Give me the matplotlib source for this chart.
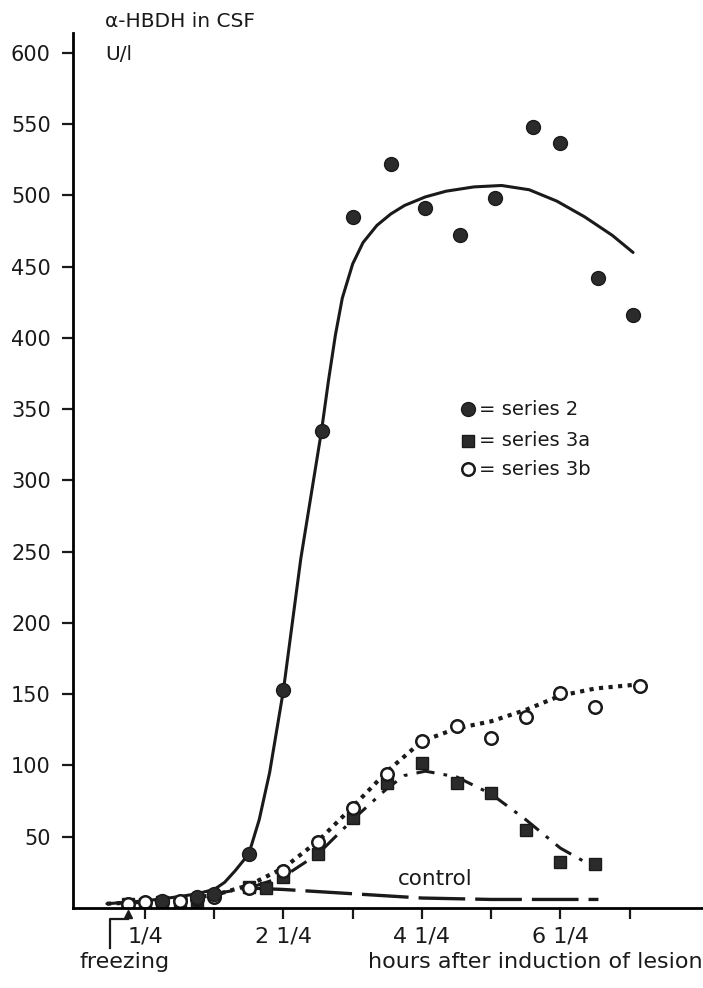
import matplotlib
matplotlib.use("Agg")
import matplotlib.pyplot as plt

# data (hours after lesion, U/l)
s2_h = [0.5, 1.0, 1.25, 1.75, 2.25, 2.8, 3.25, 3.8, 4.3, 4.8, 5.3, 5.85, 6.25, 6.8, 7.3]
s2_v = [5, 8, 10, 38, 153, 335, 485, 522, 491, 472, 498, 548, 537, 442, 416]

s3a_h = [0.0, 0.25, 0.5, 0.75, 1.0, 1.75, 2.0, 2.25, 2.75, 3.25, 3.75, 4.25, 4.75, 5.25, 5.75, 6.25, 6.75]
s3a_v = [3, 3, 4, 4, 5, 15, 14, 22, 38, 63, 88, 102, 88, 81, 55, 32, 31]

s3b_h = [0.0, 0.25, 0.5, 0.75, 1.0, 1.25, 1.75, 2.25, 2.75, 3.25, 3.75, 4.25, 4.75, 5.25, 5.75, 6.25, 6.75, 7.4]
s3b_v = [3, 4, 4, 5, 6, 8, 14, 26, 46, 70, 94, 117, 128, 119, 134, 151, 141, 156]

# hand drawn fit curves
curve2_h = [-0.3, 0.25, 0.75, 1.0, 1.25, 1.4, 1.55, 1.75, 1.9, 2.05, 2.25, 2.5, 2.8, 2.9, 3.0, 3.1, 3.25, 3.4,
            3.6, 3.8, 4.0, 4.3, 4.6, 5.0, 5.4, 5.8, 6.2, 6.6, 7.0, 7.3]
curve2_v = [3, 5, 8, 10, 13, 18, 26, 38, 62, 95, 153, 245, 335, 370, 402, 428, 452, 467,
            479, 487, 493, 499, 503, 506, 507, 504, 496, 485, 472, 460]

curve3a_h = [1.25, 1.75, 2.25, 2.75, 3.25, 3.75, 4.0, 4.3, 4.75, 5.25, 5.75, 6.25, 6.8]
curve3a_v = [10, 14, 22, 38, 62, 84, 93, 96, 92, 80, 62, 42, 27]

curve3b_h = [-0.3, 0.5, 1.25, 1.75, 2.25, 2.75, 3.25, 3.75, 4.25, 4.75, 5.25, 5.75, 6.25, 6.75, 7.4]
curve3b_v = [3, 5, 9, 16, 28, 47, 71, 96, 117, 126, 131, 139, 149, 154, 157]

control_h = [1.75, 2.25, 3.25, 4.25, 5.25, 6.25, 6.8]
control_v = [14, 13, 10, 7, 6, 6, 6]

y_ticks = [50, 100, 150, 200, 250, 300, 350, 400, 450, 500, 550, 600]
x_ticks = [0.25, 1.25, 2.25, 3.25, 4.25, 5.25, 6.25, 7.25]
x_labels = ["1/4", "", "2 1/4", "", "4 1/4", "", "6 1/4", ""]

plt.rcParams['font.family'] = ['DejaVu Sans']
ink = '#1a1a1a'

fig = plt.figure(figsize=(7.03, 9.88), dpi=100)
ax = fig.add_axes([73 / 703, 80 / 988, 630 / 703, 875 / 988])

# curves
ax.plot(curve2_h, curve2_v, color=ink, lw=2.2, solid_capstyle='round', solid_joinstyle='round')
ax.plot(curve3a_h, curve3a_v, color=ink, lw=2.2, linestyle=(0, (6, 3, 1.2, 3)))
ax.plot(curve3b_h, curve3b_v, color=ink, lw=3.0, linestyle=(0, (1, 1.3)))
ax.plot(control_h, control_v, color=ink, lw=2.4, linestyle=(0, (14, 3)))

# points
ax.plot(s3a_h, s3a_v, 's', color='#2b2b2b', markersize=8, markeredgecolor=ink, linestyle='none')
ax.plot(s3b_h, s3b_v, 'o', color='white', markersize=9, markeredgecolor=ink, markeredgewidth=1.8, linestyle='none')
ax.plot(s2_h, s2_v, 'o', color='#2b2b2b', markersize=10, markeredgecolor=ink, linestyle='none')

ax.set_xlim(-0.79, 8.31)
ax.set_ylim(0, 614)

ax.spines['top'].set_visible(False)
ax.spines['right'].set_visible(False)
ax.spines['left'].set_linewidth(2)
ax.spines['bottom'].set_linewidth(2)

ax.set_yticks(y_ticks)
ax.set_yticklabels([str(v) for v in y_ticks])
ax.set_xticks(x_ticks)
ax.set_xticklabels(x_labels)
ax.tick_params(axis='both', direction='out', length=8, width=1.6, colors=ink)
ax.tick_params(axis='y', labelsize=15, pad=8)
ax.tick_params(axis='x', labelsize=16, pad=5)

# y axis caption
ax.text(-0.33, 622, "α-HBDH in CSF", fontsize=14.5, color=ink, va='center', clip_on=False)
ax.text(-0.33, 599, "U/l", fontsize=14.5, color=ink, va='center', clip_on=False)

# legend
ax.plot([4.92], [350], 'o', color='#2b2b2b', markersize=10, markeredgecolor=ink, clip_on=False)
ax.plot([4.92], [328], 's', color='#2b2b2b', markersize=8, markeredgecolor=ink, clip_on=False)
ax.plot([4.92], [308], 'o', color='white', markersize=9, markeredgecolor=ink, markeredgewidth=1.8, clip_on=False)
ax.text(5.08, 350, "= series 2", fontsize=14, color=ink, va='center')
ax.text(5.08, 328, "= series 3a", fontsize=14, color=ink, va='center')
ax.text(5.08, 308, "= series 3b", fontsize=14, color=ink, va='center')

ax.text(4.44, 20, "control", fontsize=15.5, color=ink, ha='center', va='center')

# freezing marker below the axis
ax.plot([-0.25, -0.25, 0.0], [-28, -8, -8], color=ink, lw=1.6, clip_on=False)
ax.plot([0.0], [-4], '^', color=ink, markersize=6, clip_on=False)
ax.text(-0.05, -38, "freezing", fontsize=16, color=ink, ha='center', va='center')
ax.text(8.3, -38, "hours after induction of lesion", fontsize=16, color=ink, ha='right', va='center')

fig.savefig("out.png", dpi=100)
